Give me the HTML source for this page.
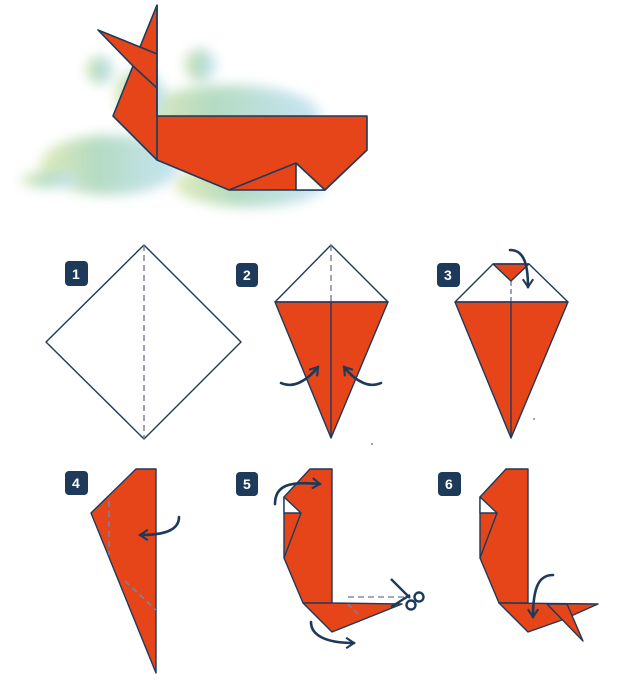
<!DOCTYPE html>
<html><head><meta charset="utf-8"><style>
html,body{margin:0;padding:0;background:#fff;width:620px;height:691px;overflow:hidden}
svg{display:block}
.b{font-family:"Liberation Sans",sans-serif;font-weight:bold;font-size:14px;fill:#fff}
</style></head><body>
<svg width="620" height="691" viewBox="0 0 620 691" xmlns="http://www.w3.org/2000/svg">
<defs>
<filter id="bl" x="-30%" y="-30%" width="160%" height="160%"><feGaussianBlur stdDeviation="6"/></filter>
<linearGradient id="wg" x1="0" y1="0" x2="1" y2="0">
<stop offset="0" stop-color="#d4e4a0"/><stop offset="0.4" stop-color="#9ccfae"/><stop offset="1" stop-color="#b4dcf2"/></linearGradient>
<marker id="ah" viewBox="0 0 10 10" refX="7" refY="5" markerWidth="5" markerHeight="5" orient="auto"><path d="M1,1 L7,5 L1,9" fill="none" stroke="#1d3a5a" stroke-width="1.6"/></marker>
</defs>
<!-- waves -->
<g filter="url(#bl)" opacity="0.75" fill="url(#wg)">
<ellipse cx="110" cy="165" rx="70" ry="30"/>
<ellipse cx="230" cy="115" rx="90" ry="30"/>
<ellipse cx="250" cy="185" rx="75" ry="22"/>
<ellipse cx="50" cy="180" rx="30" ry="8"/>
<circle cx="200" cy="65" r="16"/>
<circle cx="100" cy="70" r="14"/>
<ellipse cx="140" cy="95" rx="25" ry="25"/>
</g>
<!-- whale -->
<g stroke="#1d3a5a" stroke-width="1.6" stroke-linejoin="round">
<polygon points="157,5 140,47 98,30 133,66 113,116 157,160 229,190 296,190 325,190 367,150 367,116 157,116" fill="#e54519"/>
<polygon points="296,163 296,190 325,190" fill="#fff"/>
<polyline points="140,47 157,54" fill="none"/>
<polyline points="133,66 157,88" fill="none"/>
<polyline points="157,5 157,160" fill="none"/>
<polyline points="229,190 296,163" fill="none"/>
</g>
<!-- badges -->
<g fill="#1d3a5a">
<rect x="65" y="261" width="23" height="25" rx="4"/>
<rect x="236" y="263" width="22" height="24" rx="4"/>
<rect x="437" y="263" width="23" height="24" rx="4"/>
<rect x="65" y="471" width="23" height="24" rx="4"/>
<rect x="236" y="472" width="22" height="24" rx="4"/>
<rect x="438" y="472" width="23" height="24" rx="4"/>
</g>
<text class="b" x="72" y="279">1</text><text class="b" x="243" y="280">2</text><text class="b" x="444" y="280">3</text>
<text class="b" x="72" y="488">4</text><text class="b" x="243" y="489">5</text><text class="b" x="445" y="489">6</text>
<g stroke="#1d3a5a" stroke-width="1.4" stroke-linejoin="round" fill="none">
<polygon points="144,245 241,342 144,439 46,342" fill="#fff"/>
<line x1="144" y1="245" x2="144" y2="439" stroke="#7a7896" stroke-dasharray="6,4"/>
<polygon points="331,245 388,302 275,302" fill="#fff"/>
<line x1="331" y1="245" x2="331" y2="302" stroke="#7a7896" stroke-dasharray="6,4"/>
<polygon points="275,302 388,302 331,438" fill="#e54519"/>
<line x1="331" y1="302" x2="331" y2="438"/>
<polygon points="493,264 529,264 568,302 455,302" fill="#fff"/>
<line x1="511" y1="281" x2="511" y2="302" stroke="#7a7896" stroke-dasharray="5,3"/>
<polygon points="493,264 529,264 511,281" fill="#e54519"/>
<polygon points="455,302 568,302 511,438" fill="#e54519"/>
<line x1="511" y1="302" x2="511" y2="438"/>
<polygon points="136,469 156,469 156,673 91,513" fill="#e54519"/>
<line x1="109" y1="501" x2="109" y2="555" stroke="#6a8ab8" stroke-dasharray="6,4"/>
<line x1="125" y1="581" x2="156" y2="610" stroke="#6a8ab8" stroke-dasharray="6,4"/>
<polygon points="310,469 332,469 332,603 402,604 332,632 303,603 284,558 284,497" fill="#e54519"/>
<polygon points="284,497 284,513 301,513" fill="#fff"/>
<polyline points="301,513 284,558"/>
<line x1="303" y1="603" x2="332" y2="603"/>
<line x1="348" y1="597" x2="405" y2="597" stroke="#8a88a6" stroke-dasharray="6,4"/>
<line x1="348" y1="604" x2="360" y2="616" stroke="#6a8ab8" stroke-dasharray="5,4"/>
<polygon points="506,469 528,469 528,603 499,603 480,558 480,497" fill="#e54519"/>
<polygon points="499,603 598,604 562,620 528,632" fill="#e54519"/>
<polygon points="547,604 567,604 583,641" fill="#e54519"/>
<polygon points="480,497 480,513 497,513" fill="#fff"/>
<polyline points="497,513 480,558"/>
</g>
<!-- arrows -->
<g stroke="#1d3a5a" stroke-width="2.6" fill="none" stroke-linecap="round" marker-end="url(#ah)">
<path d="M281,383 C292,388 305,383 318,367"/>
<path d="M381,383 C370,388 357,383 344,367"/>
<path d="M510,250 C522,250 528,260 528,287"/>
<path d="M179,517 C179,530 165,535 140,535"/>
<path d="M275,504 C275,485 290,481 320,484"/>
<path d="M311,622 C311,635 325,643 354,643"/>
<path d="M553,575 C540,575 533,585 533,617"/>
</g>
<!-- scissors -->
<g stroke="#1d3a5a" stroke-width="2.4" fill="none">
<line x1="391" y1="579" x2="410" y2="598"/><line x1="391" y1="607" x2="410" y2="595"/>
<circle cx="419" cy="597" r="4.5"/><circle cx="411" cy="605" r="4.5"/>
</g>
<circle cx="372" cy="444" r="0.8" fill="#1d3a5a"/><circle cx="534" cy="419" r="0.8" fill="#1d3a5a"/>
</svg>
</body></html>
